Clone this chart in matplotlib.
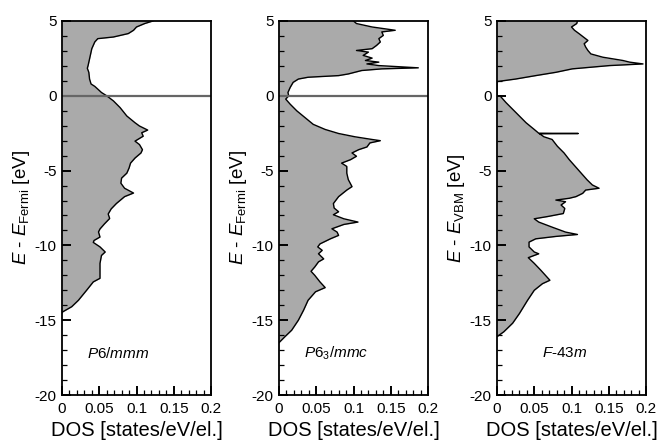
import matplotlib
matplotlib.use("Agg")
import matplotlib.pyplot as plt
from matplotlib.ticker import MultipleLocator, FuncFormatter

plt.rcParams['font.family'] = ['Liberation Sans', 'DejaVu Sans']
plt.rcParams['mathtext.fontset'] = 'custom'
plt.rcParams['mathtext.rm'] = 'Liberation Sans'
plt.rcParams['mathtext.it'] = 'Liberation Sans:italic'
plt.rcParams['axes.unicode_minus'] = False

# P6/mmm
e1 = [5.0, 4.83, 4.6, 4.38, 4.16, 3.93, 3.82, 3.6, 3.15, 2.47, 2.02, 1.84, 1.57,
      1.12, 0.79, 0.63, 0.22, 0.0, -0.34, -0.79, -1.35, -1.8, -2.02, -2.29, -2.47,
      -2.7, -3.03, -3.26, -3.6, -3.82, -4.16, -4.5, -4.83, -5.17, -5.5, -5.84, -6.18,
      -6.5, -6.74, -7.2, -7.56, -7.9, -8.2, -8.56, -8.9, -9.1, -9.44, -9.67, -9.8,
      -10.1, -10.44, -10.67, -11.2, -12.2, -12.44, -13.0, -13.67, -14.1, -14.44, -14.5]
dos1 = [0.122, 0.111, 0.100, 0.096, 0.089, 0.069, 0.048, 0.044, 0.040, 0.037, 0.035,
        0.034, 0.036, 0.037, 0.039, 0.044, 0.053, 0.060, 0.069, 0.078, 0.087, 0.098,
        0.104, 0.115, 0.107, 0.109, 0.098, 0.104, 0.108, 0.106, 0.098, 0.092, 0.090,
        0.087, 0.080, 0.079, 0.084, 0.096, 0.084, 0.073, 0.066, 0.062, 0.064, 0.057,
        0.051, 0.049, 0.051, 0.043, 0.042, 0.051, 0.058, 0.053, 0.051, 0.051, 0.042,
        0.033, 0.022, 0.013, 0.001, 0.0]

# P6_3/mmc
e2 = [5.0, 4.83, 4.6, 4.38, 4.27, 4.04, 3.82, 3.6, 3.37, 3.15, 3.03, 2.92, 2.7, 2.52,
      2.36, 2.25, 2.13, 2.02, 1.87, 1.8, 1.69, 1.46, 1.35, 1.24, 1.12, 0.9, 0.56, 0.22,
      0.0, -0.22, -0.56, -1.01, -1.46, -1.91, -2.25, -2.52, -2.74, -2.92, -3.0, -3.15,
      -3.42, -3.6, -3.82, -4.04, -4.27, -4.5, -4.72, -5.17, -5.6, -6.07, -6.3, -6.74,
      -7.2, -7.5, -7.75, -7.95, -8.22, -8.44, -8.6, -8.89, -9.11, -9.33, -9.56, -9.9,
      -10.1, -10.33, -10.56, -10.9, -11.1, -11.44, -11.73, -12.0, -12.44, -12.82,
      -13.1, -13.67, -14.33, -15.0, -15.67, -16.1, -16.5]
dos2 = [0.100, 0.104, 0.125, 0.156, 0.138, 0.140, 0.134, 0.136, 0.131, 0.125, 0.104,
        0.120, 0.113, 0.125, 0.116, 0.134, 0.118, 0.134, 0.187, 0.138, 0.111, 0.093,
        0.080, 0.039, 0.026, 0.019, 0.015, 0.012, 0.013, 0.009, 0.015, 0.024, 0.035,
        0.046, 0.062, 0.080, 0.102, 0.125, 0.136, 0.122, 0.118, 0.107, 0.098, 0.104,
        0.096, 0.084, 0.091, 0.091, 0.093, 0.098, 0.091, 0.080, 0.073, 0.074, 0.080,
        0.073, 0.087, 0.106, 0.087, 0.071, 0.078, 0.080, 0.069, 0.055, 0.052, 0.058,
        0.053, 0.060, 0.053, 0.048, 0.043, 0.048, 0.055, 0.062, 0.049, 0.039, 0.033,
        0.026, 0.017, 0.008, 0.0]

# F-43m
e3 = [5.0, 4.83, 4.6, 4.38, 4.16, 3.93, 3.7, 3.48, 3.26, 3.03, 2.8, 2.58, 2.36, 2.25,
      2.13, 2.02, 1.8, 1.57, 1.35, 1.12, 0.97, 0.95, 0.0, 0.0, -0.45, -0.9, -1.35, -1.8,
      -2.25, -2.5, -2.52, -2.54, -2.6, -2.74, -2.92, -3.37, -3.82, -4.27, -4.72, -5.17,
      -5.62, -5.96, -6.18, -6.3, -6.52, -6.74, -6.85, -6.97, -7.08, -7.3, -7.53, -7.87,
      -8.07, -8.22, -8.44, -8.78, -9.11, -9.27, -9.4, -9.56, -9.78, -10.1, -10.44,
      -10.56, -10.67, -10.82, -11.2, -11.67, -12.33, -12.56, -13.0, -13.67, -14.56,
      -15.2, -15.78, -16.1]
dos3 = [0.108, 0.107, 0.100, 0.104, 0.110, 0.116, 0.122, 0.117, 0.119, 0.122, 0.126,
        0.142, 0.169, 0.178, 0.196, 0.151, 0.101, 0.079, 0.052, 0.025, 0.003, 0.0, 0.0,
        0.004, 0.012, 0.021, 0.030, 0.039, 0.050, 0.056, 0.109, 0.057, 0.059, 0.063,
        0.074, 0.081, 0.090, 0.097, 0.105, 0.113, 0.121, 0.128, 0.137, 0.119, 0.115,
        0.106, 0.097, 0.079, 0.092, 0.086, 0.091, 0.089, 0.068, 0.050, 0.056, 0.074,
        0.092, 0.108, 0.079, 0.052, 0.043, 0.043, 0.050, 0.056, 0.050, 0.042, 0.050,
        0.059, 0.071, 0.061, 0.050, 0.041, 0.030, 0.021, 0.009, 0.0]

panels = [
    (e1, dos1, r'$E$ - $E_{\mathrm{Fermi}}$ [eV]', r'$P6/mmm$', 0.075, True),
    (e2, dos2, r'$E$ - $E_{\mathrm{Fermi}}$ [eV]', r'$P6_3/mmc$', 0.076, True),
    (e3, dos3, r'$E$ - $E_{\mathrm{VBM}}$ [eV]', r'$F$-43$m$', 0.0915, False),
]
lefts = [62, 279, 497]

fig = plt.figure(figsize=(6.57, 4.41), dpi=100)
for (e, d, ylab, name, xname, zero_line), left in zip(panels, lefts):
    ax = fig.add_axes([left / 657, 46 / 441, 149 / 657, 374 / 441])
    ax.fill_betweenx(e, 0, d, color='#aaaaaa', lw=0)
    ax.plot(d, e, color='black', lw=1.0)
    if zero_line:
        ax.axhline(0, color='#666666', lw=1.6)
    ax.set_xlim(0, 0.2)
    ax.set_ylim(-20, 5)
    ax.xaxis.set_major_locator(MultipleLocator(0.05))
    ax.xaxis.set_minor_locator(MultipleLocator(0.01))
    ax.yaxis.set_major_locator(MultipleLocator(5))
    ax.yaxis.set_minor_locator(MultipleLocator(1))
    ax.xaxis.set_major_formatter(FuncFormatter(lambda v, p: f'{v:g}'))
    ax.tick_params(which='both', direction='in', top=False, right=False,
                   labelsize=11)
    ax.tick_params(which='major', length=6.3, width=1.4)
    ax.tick_params(which='minor', length=3.6, width=0.9)
    ax.tick_params(axis='x', pad=5)
    ax.tick_params(axis='y', pad=4)
    for s in ax.spines.values():
        s.set_linewidth(1.3)
    ax.set_xlabel('DOS [states/eV/el.]', fontsize=14.5, labelpad=4)
    ax.set_ylabel(ylab, fontsize=13.5, labelpad=2)
    ax.text(xname, -17.2, name, fontsize=11, ha='center', va='center')

fig.savefig('out.png', dpi=100)
